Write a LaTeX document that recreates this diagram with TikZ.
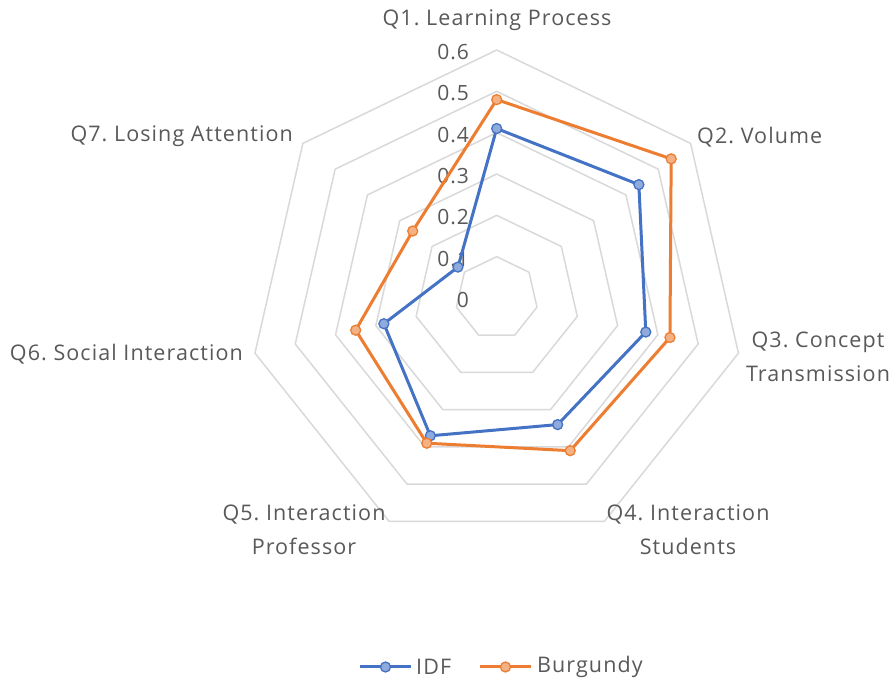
\documentclass[tikz,border=0pt]{standalone}
\usepackage{fontspec}
\setmainfont{Open Sans}[LetterSpace=5]
\usetikzlibrary{calc}
\definecolor{gridc}{HTML}{D9D9D9}
\definecolor{txt}{HTML}{595959}
\definecolor{idfc}{HTML}{4472C4}
\definecolor{burc}{HTML}{ED7D31}
\definecolor{idfl}{HTML}{8FAADC}
\definecolor{burl}{HTML}{F4B183}
\frenchspacing
\begin{document}
\begin{tikzpicture}[x=1pt,y=1pt,
  gridline/.style={draw=gridc,line width=1.5pt,line join=round},
  lab/.style={text=txt,inner sep=0pt,font=\fontsize{21.5}{34}\selectfont,align=center},
  vlab/.style={text=txt,inner sep=0pt,font=\fontsize{21}{23}\selectfont,anchor=east},
  idfline/.style={draw=idfc,line width=3pt,line join=round},
  burline/.style={draw=burc,line width=3pt,line join=round},
  idfmark/.style={circle,draw=idfc,fill=idfl,line width=1.3pt,minimum size=10pt,inner sep=0pt},
  burmark/.style={circle,draw=burc,fill=burl,line width=1.3pt,minimum size=10pt,inner sep=0pt}]
\useasboundingbox (0,0) rectangle (892,683);
\fill[white] (0,0) rectangle (892,683);
\coordinate (C) at (496.7,385);
\def\unit{413.3}
% grid rings
\foreach \r in {1,...,6}{
  \draw[gridline] ($(C)+(90:\r*41.33)$)
    \foreach \k in {1,...,6}{ -- ($(C)+(90-\k*360/7:\r*41.33)$)} -- cycle;
}
% value labels
\foreach \r/\t in {0/0,1/0.1,2/0.2,3/0.3,4/0.4,5/0.5,6/0.6}{
  \node[vlab] (v\r) at ($(C)+(-27.5,\r*41.33-2)$) {\t};
}
% data coordinates
\foreach \v [count=\k from 0] in {0.41,0.44,0.37,0.34,0.37,0.28,0.12}{
  \coordinate (i\k) at ($(C)+(90-\k*360/7:\v*\unit)$);
}
\foreach \v [count=\k from 0] in {0.48,0.54,0.43,0.41,0.39,0.35,0.26}{
  \coordinate (b\k) at ($(C)+(90-\k*360/7:\v*\unit)$);
}
% IDF series
\draw[idfline] (i0) -- (i1) -- (i2) -- (i3) -- (i4) -- (i5) -- (i6) -- cycle;
\foreach \k in {0,...,6}{ \node[idfmark] (mi\k) at (i\k) {}; }
% Burgundy series
\draw[burline] (b0) -- (b1) -- (b2) -- (b3) -- (b4) -- (b5) -- (b6) -- cycle;
\foreach \k in {0,...,6}{ \node[burmark] (mb\k) at (b\k) {}; }
% category labels
\node[lab] (q1) at (497,663) {Q1. Learning Process};
\node[lab,anchor=west] (q2) at (697,546) {Q2. Volume};
\node[lab] (q3) at (818,326.5) {Q3. Concept\\Transmission};
\node[lab] (q4) at (688,153) {Q4. Interaction\\Students};
\node[lab] (q5) at (304,153) {Q5. Interaction\\Professor};
\node[lab,anchor=east] (q6) at (243,329) {Q6. Social Interaction};
\node[lab,anchor=east] (q7) at (293,547) {Q7. Losing Attention};
% legend
\coordinate (l1a) at (360,16);
\coordinate (l1b) at (411,16);
\coordinate (l2a) at (480,16);
\coordinate (l2b) at (531,16);
\draw[idfline] (l1a) -- (l1b);
\node[idfmark] (lm1) at ($(l1a)!0.5!(l1b)$) {};
\node[lab,anchor=west] (lt1) at (416,16) {IDF};
\draw[burline] (l2a) -- (l2b);
\node[burmark] (lm2) at ($(l2a)!0.5!(l2b)$) {};
\node[lab,anchor=west] (lt2) at (537,16) {Burgundy};
\end{tikzpicture}
\end{document}
